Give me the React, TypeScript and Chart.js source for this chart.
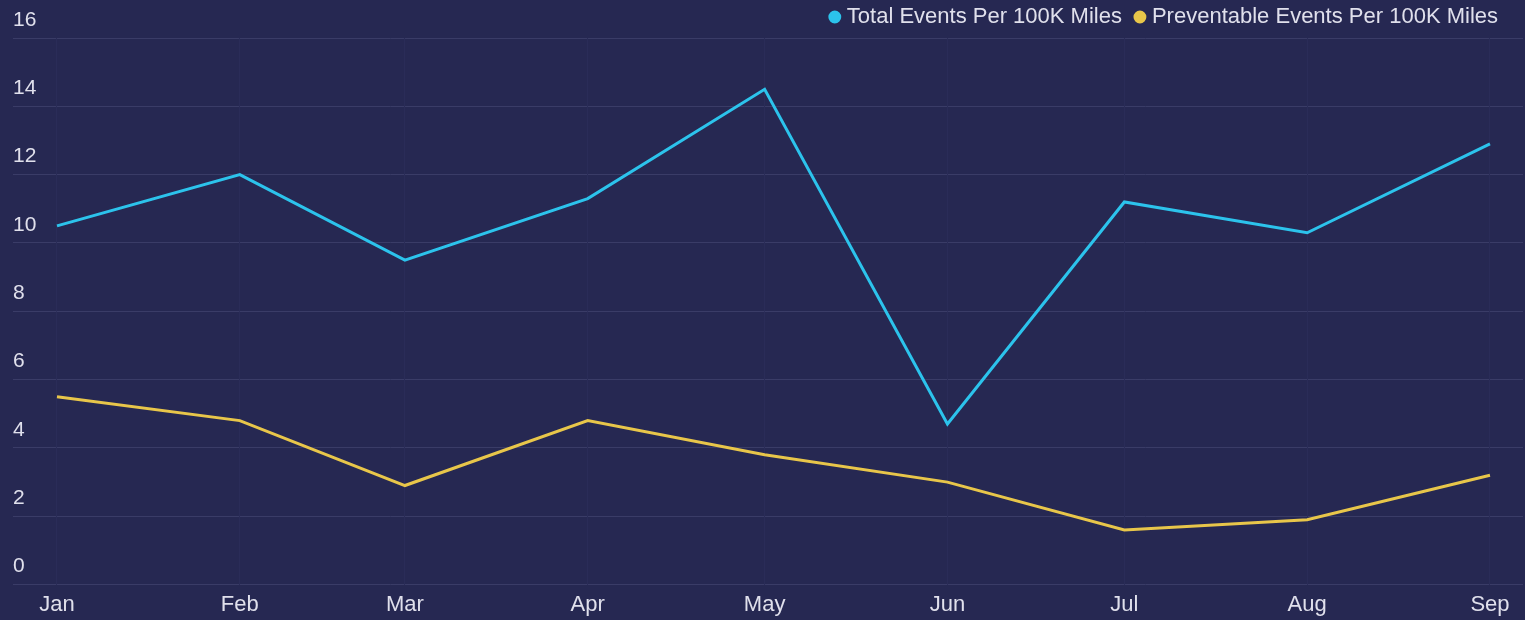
import React, { useEffect, useRef } from "react";
import { Chart, registerables } from "chart.js";

Chart.register(...registerables);

// ---- data ----
const year = 2023;
const months: string[] = ["Jan", "Feb", "Mar", "Apr", "May", "Jun", "Jul", "Aug", "Sep"];
const totalEventsLabel = "Total Events Per 100K Miles";
const preventableEventsLabel = "Preventable Events Per 100K Miles";
const totalEvents: number[] = [10.5, 12.0, 9.5, 11.3, 14.5, 4.7, 11.2, 10.3, 12.9];
const preventableEvents: number[] = [5.5, 4.8, 2.9, 4.8, 3.8, 3.0, 1.6, 1.9, 3.2];
const yMin = 0;
const yMax = 16;
const yStep = 2;

// day offset (from Jan 1) of the first day of each month -> time-like x axis
const DAY = 86400000;
const monthStartDays: number[] = months.map(
  (_, i) => Math.round((Date.UTC(year, i, 1) - Date.UTC(year, 0, 1)) / DAY)
);

// ---- styles ----
const BG = "#262852";
const CYAN = "#2cc3ec";
const YELLOW = "#e8c64a";
const GRID = "#3a3c67";
const XGRID = "#2a2c58";
const TEXT = "#e0e0ec";
const FONT = "'Liberation Sans', Arial, Helvetica, sans-serif";

const legendShift = {
  id: "legendShift",
  afterLayout(chart: any) {
    const l = chart.legend;
    if (l) {
      l.right -= 8;
      l.width -= 8;
    }
  },
};

export default function App() {
  const ref = useRef<HTMLCanvasElement | null>(null);

  useEffect(() => {
    document.body.style.margin = "0";
    document.body.style.background = BG;
    if (!ref.current) return;
    Chart.defaults.font.family = FONT;

    const chart = new Chart(ref.current, {
      type: "line",
      data: {
        datasets: [
          {
            label: totalEventsLabel,
            data: totalEvents.map((v, i) => ({ x: monthStartDays[i], y: v })),
            borderColor: CYAN,
            backgroundColor: CYAN,
            borderWidth: 3,
            pointRadius: 0,
            pointHoverRadius: 0,
            tension: 0,
          },
          {
            label: preventableEventsLabel,
            data: preventableEvents.map((v, i) => ({ x: monthStartDays[i], y: v })),
            borderColor: YELLOW,
            backgroundColor: YELLOW,
            borderWidth: 3,
            pointRadius: 0,
            pointHoverRadius: 0,
            tension: 0,
          },
        ],
      },
      options: {
        animation: false,
        responsive: true,
        maintainAspectRatio: false,
        layout: { padding: { left: 13, right: 2, top: -11, bottom: -5 } },
        plugins: {
          tooltip: { enabled: false },
          legend: {
            position: "top",
            align: "end",
            labels: {
              usePointStyle: true,
              pointStyle: "circle",
              boxWidth: 2,
              boxHeight: 7,
              padding: 17,
              color: TEXT,
              font: { size: 22, family: FONT },
            },
          },
        },
        scales: {
          y: {
            min: yMin,
            max: yMax,
            border: { display: false },
            grid: { color: GRID, lineWidth: 1, drawTicks: false },
            ticks: {
              stepSize: yStep,
              mirror: true,
              padding: 0,
              labelOffset: -18,
              color: TEXT,
              font: { size: 21, family: FONT },
            },
          },
          x: {
            type: "linear",
            min: -7.46,
            max: 248.6,
            border: { display: false },
            grid: { color: XGRID, lineWidth: 1, drawTicks: false },
            afterBuildTicks: (scale: any) => {
              scale.ticks = monthStartDays.map((d) => ({ value: d }));
            },
            ticks: {
              autoSkip: false,
              maxRotation: 0,
              padding: 7,
              color: TEXT,
              font: { size: 22, family: FONT },
              callback: (value: any) => {
                const idx = monthStartDays.indexOf(Number(value));
                return idx >= 0 ? months[idx] : "";
              },
            },
          },
        },
      },
      plugins: [legendShift],
    } as any);

    return () => chart.destroy();
  }, []);

  return (
    <div style={{ width: 1525, height: 620, position: "relative", background: BG }}>
      <canvas ref={ref} />
    </div>
  );
}
